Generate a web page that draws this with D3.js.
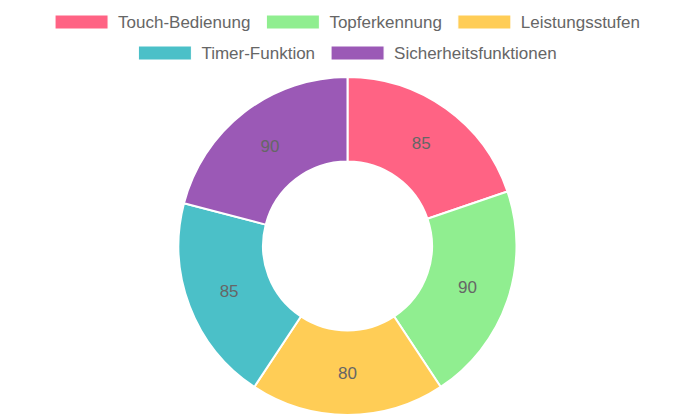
<!DOCTYPE html>
<html><head><meta charset="utf-8">
<script src="https://cdn.jsdelivr.net/npm/d3@7"></script>
<style>html,body{margin:0;padding:0;background:#fff;}svg{display:block;}</style>
</head><body>
<svg id="c" width="695" height="417"></svg>
<script>
const categories = ["Touch-Bedienung","Topferkennung","Leistungsstufen","Timer-Funktion","Sicherheitsfunktionen"];
const values = [85, 90, 80, 85, 90];
const colors = ["#FF6384","#90EE90","#FFCD56","#4BC0C8","#9B59B6"];
const legendRows = [[0,1,2],[3,4]];

const W = 695, H = 417;
const svg = d3.select("#c");
const font = "'Liberation Sans', Arial, Helvetica, sans-serif";
const cx = 347.5, cy = 246, outerR = 169, innerR = 84.5;

const pie = d3.pie().sort(null).value(d => d)(values);
const arc = d3.arc().innerRadius(innerR).outerRadius(outerR);
const g = svg.append("g").attr("transform", `translate(${cx},${cy})`);
g.selectAll("path").data(pie).join("path")
  .attr("d", arc).attr("fill", (d,i) => colors[i])
  .attr("stroke", "#fff").attr("stroke-width", 2).attr("stroke-linejoin","round");
g.selectAll("text").data(pie).join("text")
  .attr("transform", d => `translate(${arc.centroid(d)})`)
  .attr("text-anchor","middle").attr("dy","0.36em")
  .attr("font-family", font).attr("font-size", 17).attr("fill", "#666")
  .text(d => d.data);

// legend
const boxW = 53, boxH = 14, boxGap = 10, itemGap = 16;
const rowY = [22, 53];
legendRows.forEach((row, ri) => {
  const lg = svg.append("g");
  let x = 0;
  row.forEach(i => {
    const it = lg.append("g").attr("transform", `translate(${x},0)`);
    it.append("rect").attr("x",0).attr("y",-boxH/2).attr("width",boxW).attr("height",boxH)
      .attr("fill", colors[i]).attr("stroke","#fff").attr("stroke-width",1);
    const t = it.append("text").attr("x", boxW + boxGap).attr("y", 0).attr("dy","0.35em")
      .attr("font-family", font).attr("font-size", 17).attr("fill", "#666").text(categories[i]);
    x += boxW + boxGap + t.node().getComputedTextLength() + itemGap;
  });
  const total = x - itemGap;
  lg.attr("transform", `translate(${cx - total/2},${rowY[ri]})`);
});
</script>
</body></html>
